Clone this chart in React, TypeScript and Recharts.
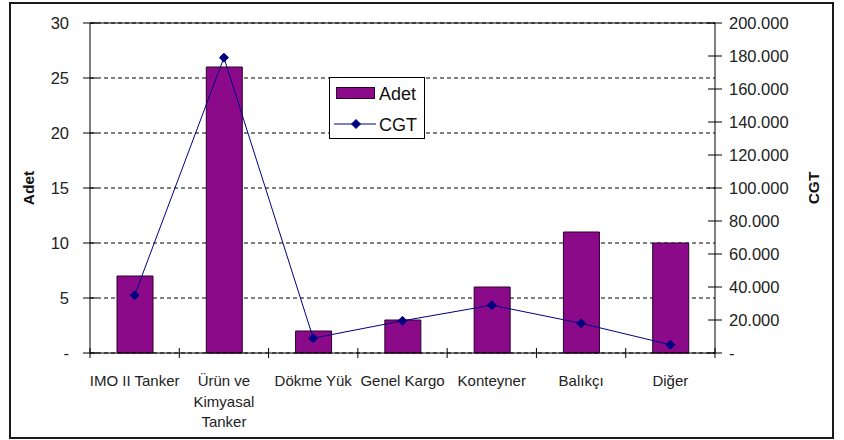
import React from "react";
import {
  ComposedChart,
  Bar,
  Line,
  XAxis,
  YAxis,
  CartesianGrid,
  Legend,
  ReferenceLine,
} from "recharts";

const categories = [
  "IMO II Tanker",
  "Ürün ve\nKimyasal\nTanker",
  "Dökme Yük",
  "Genel Kargo",
  "Konteyner",
  "Balıkçı",
  "Diğer",
];
const adetValues = [7, 26, 2, 3, 6, 11, 10];
const cgtValues = [35000, 179000, 9000, 19500, 29000, 18000, 5000];
const adetTicks = [0, 5, 10, 15, 20, 25, 30];
const cgtTicks = [0, 20000, 40000, 60000, 80000, 100000, 120000, 140000, 160000, 180000, 200000];

const data = categories.map((name, i) => ({
  name,
  adet: adetValues[i],
  cgt: cgtValues[i],
}));

const FONT = "'Liberation Sans', Arial, sans-serif";
const BAR_COLOR = "#8a0a8a";
const LINE_COLOR = "#000080";

const W = 844;
const H = 440;
const margin = { top: 23, right: 29, bottom: 27, left: 30 };
const LEFT_W = 60;
const RIGHT_W = 100;
const halfBand = (W - margin.left - margin.right - LEFT_W - RIGHT_W) / categories.length / 2;

const fmtAdet = (v: number) => (v === 0 ? "-" : String(v));
const fmtCgt = (v: number) => (v === 0 ? "-" : `${v / 1000}.000`);

// left axis: tick mark crosses the axis line
const LeftTick = ({ x, y, payload }: any) => (
  <g>
    <line x1={x + 13} x2={x + 27} y1={y} y2={y} stroke="#000" />
    <text x={x - 1} y={y} dy={6} textAnchor="end" fontFamily={FONT} fontSize={16.5} fill="#222">
      {fmtAdet(payload.value)}
    </text>
  </g>
);

const RightTick = ({ x, y, payload }: any) => (
  <g>
    <line x1={x - 25} x2={x - 11} y1={y} y2={y} stroke="#000" />
    <text x={x - 4} y={y} dy={6} textAnchor="start" fontFamily={FONT} fontSize={16.5} fill="#222">
      {fmtCgt(payload.value)}
    </text>
  </g>
);

// category labels sit under the bar, tick marks fall between categories
const CategoryTick = ({ x, y, payload, index }: any) => {
  const lines = String(payload.value).split("\n");
  return (
    <g>
      <line x1={x - halfBand} x2={x - halfBand} y1={y - 5} y2={y + 5} stroke="#000" />
      {index === categories.length - 1 && (
        <line x1={x + halfBand} x2={x + halfBand} y1={y - 5} y2={y + 5} stroke="#000" />
      )}
      <text x={x} y={y} textAnchor="middle" fontFamily={FONT} fontSize={15} fill="#222">
        {lines.map((l, i) => (
          <tspan key={i} x={x} dy={i === 0 ? 33 : 20.5}>
            {l}
          </tspan>
        ))}
      </text>
    </g>
  );
};

const Diamond = ({ cx, cy }: any) => {
  if (cx == null || cy == null) return null;
  return (
    <path
      d={`M${cx},${cy - 4.5}L${cx + 4.5},${cy}L${cx},${cy + 4.5}L${cx - 4.5},${cy}Z`}
      fill={LINE_COLOR}
      stroke={LINE_COLOR}
    />
  );
};

const LegendBox = () => (
  <svg width={96} height={62} style={{ display: "block" }}>
    <rect x={0.5} y={0.5} width={95} height={61} fill="#fff" stroke="#000" />
    <rect x={7.5} y={10.5} width={38} height={11} fill={BAR_COLOR} stroke="#2a002a" />
    <text x={50} y={22.5} fontFamily={FONT} fontSize={18} fill="#111">
      Adet
    </text>
    <line x1={5} x2={47} y1={47} y2={47} stroke={LINE_COLOR} />
    <Diamond cx={27} cy={47} />
    <text x={50} y={53.5} fontFamily={FONT} fontSize={18} fill="#111">
      CGT
    </text>
  </svg>
);

export default function App() {
  return (
    <div style={{ position: "absolute", left: 0, top: 0, width: W, height: H, background: "#fff" }}>
      <div
        style={{
          position: "absolute",
          left: 9,
          top: 2,
          width: 825,
          height: 437,
          boxSizing: "border-box",
          border: "2px solid #1a1a1a",
        }}
      />
      <div style={{ position: "absolute", left: 0, top: 0 }}>
        <ComposedChart width={W} height={H} data={data} margin={margin}>
          <CartesianGrid
            yAxisId="left"
            vertical={false}
            stroke="#000"
            strokeDasharray="4 3"
          />
          <XAxis
            dataKey="name"
            interval={0}
            tickSize={0}
            tickMargin={0}
            height={60}
            stroke="#000"
            tick={<CategoryTick />}
            tickLine={false}
          />
          <YAxis
            yAxisId="left"
            domain={[0, 30]}
            ticks={adetTicks}
            width={LEFT_W}
            tickSize={7}
            tickMargin={13}
            tickLine={false}
            stroke="#000"
            tick={<LeftTick />}
            label={{
              value: "Adet",
              angle: -90,
              position: "center",
              dx: -32,
              style: { fontFamily: FONT, fontSize: 15.5, fontWeight: "bold", fill: "#111" },
            }}
          />
          <YAxis
            yAxisId="right"
            orientation="right"
            domain={[0, 200000]}
            ticks={cgtTicks}
            width={RIGHT_W}
            tickSize={7}
            tickMargin={11}
            tickLine={false}
            stroke="#000"
            tick={<RightTick />}
            label={{
              value: "CGT",
              angle: -90,
              position: "center",
              dx: 48,
              style: { fontFamily: FONT, fontSize: 15.5, fontWeight: "bold", fill: "#111" },
            }}
          />
          <ReferenceLine yAxisId="left" y={30} stroke="#000" />
          <Legend
            layout="vertical"
            align="center"
            verticalAlign="middle"
            wrapperStyle={{ left: 329, top: 77, width: 96, height: 62 }}
            content={<LegendBox />}
          />
          <Bar
            yAxisId="left"
            dataKey="adet"
            name="Adet"
            fill={BAR_COLOR}
            stroke="#2a002a"
            strokeWidth={1}
            barSize={36}
            isAnimationActive={false}
          />
          <Line
            yAxisId="right"
            dataKey="cgt"
            name="CGT"
            type="linear"
            stroke={LINE_COLOR}
            strokeWidth={1}
            dot={<Diamond />}
            activeDot={false}
            isAnimationActive={false}
          />
        </ComposedChart>
      </div>
    </div>
  );
}
